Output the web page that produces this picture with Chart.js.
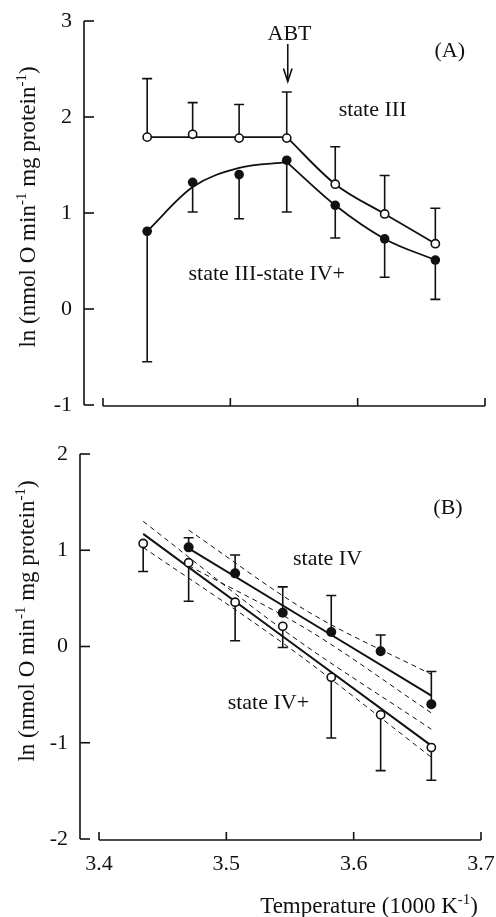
<!DOCTYPE html>
<html><head><meta charset="utf-8">
<script src="https://cdn.jsdelivr.net/npm/chart.js@4.4.0/dist/chart.umd.min.js"></script>
<style>
html,body{margin:0;padding:0;background:#fff;}
#wrap{position:relative;width:496px;height:917px;overflow:hidden;}
#wA{position:absolute;left:0;top:0;width:496px;height:420px;}
#wB{position:absolute;left:0;top:420px;width:496px;height:497px;}
canvas{display:block;}
</style></head><body>
<div id="wrap"><div id="wA"><canvas id="cA" width="496" height="420"></canvas></div><div id="wB"><canvas id="cB" width="496" height="497"></canvas></div></div>
<script>
// ---- data (x = 1000/T, K^-1) ----
const invTemp = [3.4347, 3.4704, 3.5069, 3.5443, 3.5824, 3.6212, 3.6610];
const xTicks = [3.4, 3.5, 3.6, 3.7];
const yTicksA = [-1, 0, 1, 2, 3];
const yTicksB = [-2, -1, 0, 1, 2];

// Panel A
const stateIII = [1.79, 1.82, 1.78, 1.78, 1.30, 0.99, 0.68];
const stateIIIUpper = [2.40, 2.15, 2.13, 2.26, 1.69, 1.39, 1.05];
const stateIIIminusIVplus = [0.81, 1.32, 1.40, 1.55, 1.08, 0.73, 0.51];
const stateIIIminusIVplusLower = [-0.55, 1.01, 0.94, 1.01, 0.74, 0.33, 0.10];
const fitLowX = [3.4347, 3.4704, 3.5069, 3.5443];
const fitHighX = [3.5443, 3.5824, 3.6212, 3.6610];
const fitIIIFlat = [1.79, 1.79, 1.79, 1.79];
const fitIIIFall = [1.79, 1.30, 0.99, 0.68];
const fitDiffRise = [0.81, 1.27, 1.47, 1.53];
const fitDiffFall = [1.53, 1.08, 0.73, 0.51];

// Panel B
const stateIV = [null, 1.03, 0.76, 0.35, 0.15, -0.05, -0.60];
const stateIVUpper = [null, 1.13, 0.95, 0.62, 0.53, 0.12, -0.26];
const stateIVplus = [1.07, 0.87, 0.46, 0.21, -0.32, -0.71, -1.05];
const stateIVplusLower = [0.78, 0.47, 0.06, -0.01, -0.95, -1.29, -1.39];
const regIVX = [3.4704, 3.5644, 3.6610];
const regIV = [1.02, 0.265, -0.51];
const regIVHi = [1.21, 0.36, -0.29];
const regIVLo = [0.84, 0.17, -0.69];
const regIVplusX = [3.4347, 3.5460, 3.6610];
const regIVplus = [1.17, 0.088, -1.03];
const regIVplusHi = [1.30, 0.16, -0.86];
const regIVplusLo = [1.03, 0.02, -1.15];

// ---- helpers ----
const INK = '#111';
const FONT = '"Liberation Serif", "Times New Roman", serif';
const pts = (xs, ys) => xs.map((x, i) => ({x: x, y: ys[i]})).filter(p => p.y !== null && p.y !== undefined);

function lineDs(xs, ys, extra) {
  return Object.assign({data: pts(xs, ys), showLine: true, pointRadius: 0, pointHoverRadius: 0,
    borderColor: INK, borderWidth: 1.8, fill: false, order: 2, tension: 0}, extra || {});
}
function markerDs(xs, ys, filled, r) {
  return {data: pts(xs, ys), showLine: false,
    pointRadius: filled ? r : 4.1, pointHoverRadius: filled ? r : 4.1,
    pointBorderWidth: filled ? 0 : 1.6, pointHoverBorderWidth: filled ? 0 : 1.6,
    pointBackgroundColor: filled ? INK : '#fff', pointBorderColor: INK, order: 0};
}

function drawRich(ctx, segs, x, y, align) {
  const main = '23px ' + FONT, sup = '15px ' + FONT;
  let w = 0;
  segs.forEach(s => { ctx.font = s.sup ? sup : main; w += ctx.measureText(s.t).width; });
  let cx = align === 'center' ? x - w / 2 : (align === 'right' ? x - w : x);
  ctx.textAlign = 'left'; ctx.textBaseline = 'alphabetic';
  segs.forEach(s => { ctx.font = s.sup ? sup : main; ctx.fillText(s.t, cx, s.sup ? y - 9.5 : y); cx += ctx.measureText(s.t).width; });
}
const yTitleSegs = [{t: 'ln (nmol O min'}, {t: '-1', sup: true}, {t: ' mg protein'}, {t: '-1', sup: true}, {t: ')'}];
const xTitleSegs = [{t: 'Temperature (1000 K'}, {t: '-1', sup: true}, {t: ')'}];

function makeFrame(cfg) {
  return {
    id: 'frame',
    beforeDatasetsDraw(chart) {
      const {ctx, scales: {x, y}} = chart;
      ctx.save();
      ctx.strokeStyle = INK; ctx.lineWidth = 1.6; ctx.lineCap = 'butt';
      const ax = x.getPixelForValue(xTicks[0]) - 19;
      const yTop = y.getPixelForValue(y.max), yBot = y.getPixelForValue(y.min);
      ctx.beginPath(); ctx.moveTo(ax, yTop); ctx.lineTo(ax, yBot); ctx.stroke();
      cfg.yTicks.forEach(v => { const p = y.getPixelForValue(v); ctx.beginPath(); ctx.moveTo(ax, p); ctx.lineTo(ax + 10, p); ctx.stroke(); });
      const by = yBot + 1;
      ctx.beginPath(); ctx.moveTo(x.getPixelForValue(xTicks[0]), by); ctx.lineTo(x.getPixelForValue(xTicks[xTicks.length - 1]), by); ctx.stroke();
      xTicks.forEach(v => { const p = x.getPixelForValue(v); ctx.beginPath(); ctx.moveTo(p, by); ctx.lineTo(p, by - 8); ctx.stroke(); });
      // error bars
      ctx.lineWidth = 1.6;
      cfg.err.forEach(s => {
        s.ys.forEach((v, i) => {
          if (v === null) return;
          const px = x.getPixelForValue(invTemp[i]);
          const p0 = y.getPixelForValue(v), p1 = y.getPixelForValue(s.ends[i]);
          ctx.beginPath(); ctx.moveTo(px, p0); ctx.lineTo(px, p1);
          ctx.moveTo(px - 5, p1); ctx.lineTo(px + 5, p1); ctx.stroke();
        });
      });
      ctx.restore();
    },
    afterDatasetsDraw(chart) {
      const {ctx, scales: {x, y}} = chart;
      ctx.save();
      ctx.fillStyle = INK; ctx.strokeStyle = INK;
      cfg.labels.forEach(l => {
        ctx.font = '22px ' + FONT; ctx.textAlign = 'center'; ctx.textBaseline = 'alphabetic';
        ctx.fillText(l.t, x.getPixelForValue(l.x), y.getPixelForValue(l.y));
      });
      if (cfg.arrow) {
        const ax = x.getPixelForValue(cfg.arrow.x), a0 = y.getPixelForValue(cfg.arrow.y0), a1 = y.getPixelForValue(cfg.arrow.y1);
        ctx.lineWidth = 1.6;
        ctx.beginPath(); ctx.moveTo(ax, a0); ctx.lineTo(ax, a1); ctx.stroke();
        ctx.beginPath(); ctx.moveTo(ax - 4.3, a1 - 13); ctx.lineTo(ax, a1); ctx.lineTo(ax + 4.3, a1 - 13); ctx.stroke();
      }
      // y title
      ctx.save();
      ctx.translate(cfg.yTitle.x, cfg.yTitle.cy);
      ctx.rotate(-Math.PI / 2);
      drawRich(ctx, yTitleSegs, 0, 0, 'center');
      ctx.restore();
      if (cfg.xTitle) drawRich(ctx, xTitleSegs, cfg.xTitle.x, cfg.xTitle.y, 'right');
      ctx.restore();
    }
  };
}

function opts(yMin, yMax, leftW, xH, pad, showX) {
  return {
    responsive: false, animation: false, events: [],
    layout: {padding: pad},
    plugins: {legend: {display: false}, tooltip: {enabled: false}},
    scales: {
      x: {type: 'linear', min: xTicks[0], max: xTicks[xTicks.length - 1],
        grid: {display: false, drawTicks: true, tickLength: 12}, border: {display: false},
        afterBuildTicks: s => { s.ticks = xTicks.map(v => ({value: v})); },
        ticks: {display: showX, padding: 0, color: INK, font: {family: FONT, size: 22}, callback: v => Number(v).toFixed(1)},
        afterFit: s => { s.height = xH; }},
      y: {type: 'linear', min: yMin, max: yMax,
        grid: {display: false, drawTicks: true, tickLength: 31}, border: {display: false},
        ticks: {stepSize: 1, padding: 0, color: INK, font: {family: FONT, size: 22}, callback: v => String(v)},
        afterFit: s => { s.width = leftW; }}
    }
  };
}

// ---- Panel A ----
new Chart(document.getElementById('cA'), {
  type: 'scatter',
  data: {datasets: [
    markerDs(invTemp, stateIII, false),
    markerDs(invTemp, stateIIIminusIVplus, true, 4.8),
    lineDs(fitLowX, fitIIIFlat),
    lineDs(fitHighX, fitIIIFall, {cubicInterpolationMode: 'monotone'}),
    lineDs(fitLowX, fitDiffRise, {cubicInterpolationMode: 'monotone'}),
    lineDs(fitHighX, fitDiffFall, {cubicInterpolationMode: 'monotone'})
  ]},
  options: opts(yTicksA[0], yTicksA[yTicksA.length - 1], 103, 15, {top: 21, right: 11, left: 0, bottom: 0}, false),
  plugins: [makeFrame({
    yTicks: yTicksA,
    err: [{ys: stateIII, ends: stateIIIUpper}, {ys: stateIIIminusIVplus, ends: stateIIIminusIVplusLower}],
    labels: [{t: 'ABT', x: 3.5465, y: 2.80}, {t: '(A)', x: 3.6723, y: 2.62},
             {t: 'state III', x: 3.6117, y: 2.01}, {t: 'state III-state IV+', x: 3.5286, y: 0.305}],
    arrow: {x: 3.5451, y0: 2.76, y1: 2.37},
    yTitle: {x: 35, cy: 207}
  })]
});

// ---- Panel B ----
const dash = {borderDash: [5, 4], borderWidth: 1, cubicInterpolationMode: 'monotone', order: 3};
new Chart(document.getElementById('cB'), {
  type: 'scatter',
  data: {datasets: [
    markerDs(invTemp, stateIVplus, false),
    markerDs(invTemp, stateIV, true, 5),
    lineDs(regIVX, regIV, {borderWidth: 2}),
    lineDs(regIVplusX, regIVplus, {borderWidth: 2}),
    lineDs(regIVX, regIVHi, dash),
    lineDs(regIVX, regIVLo, dash),
    lineDs(regIVplusX, regIVplusHi, dash),
    lineDs(regIVplusX, regIVplusLo, dash)
  ]},
  options: opts(yTicksB[0], yTicksB[yTicksB.length - 1], 99, 78, {top: 34, right: 15, left: 0, bottom: 0}, true),
  plugins: [makeFrame({
    yTicks: yTicksB,
    err: [{ys: stateIV, ends: stateIVUpper}, {ys: stateIVplus, ends: stateIVplusLower}],
    labels: [{t: '(B)', x: 3.6741, y: 1.38}, {t: 'state IV', x: 3.5795, y: 0.845}, {t: 'state IV+', x: 3.533, y: -0.65}],
    arrow: null,
    yTitle: {x: 34, cy: 201},
    xTitle: {x: 478, y: 493}
  })]
});
</script>
</body></html>
